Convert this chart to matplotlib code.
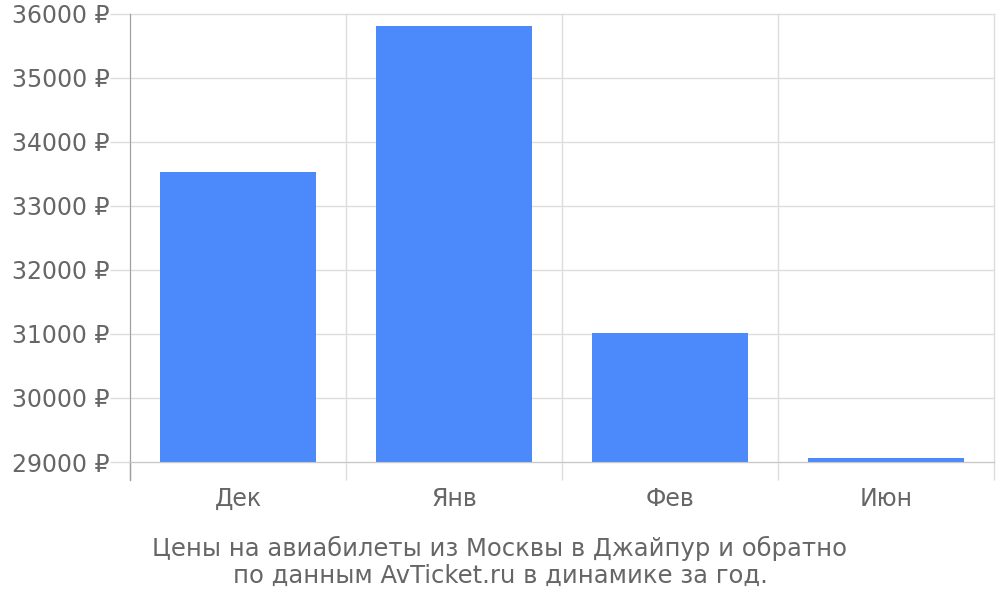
import matplotlib
matplotlib.use("Agg")
import matplotlib.pyplot as plt
from matplotlib.lines import Line2D

months = ["Дек", "Янв", "Фев", "Июн"]
prices = [33530, 35810, 31020, 29060]
yticks = [29000, 30000, 31000, 32000, 33000, 34000, 35000, 36000]
caption = "Цены на авиабилеты из Москвы в Джайпур и обратно\nпо данным AvTicket.ru в динамике за год."

TEXT = "#666666"
GRID = "#dddddd"
BAR = "#4c89fa"

plt.rcParams['font.family'] = ['DejaVu Sans']

fig = plt.figure(figsize=(10, 6), dpi=100)
ax = fig.add_axes([0.13, 0.23, 0.864, 0.7467])

x = list(range(len(months)))
ax.bar(x, [p - yticks[0] for p in prices], bottom=yticks[0], width=0.72, color=BAR, zorder=3)

ax.set_xlim(-0.5, len(months) - 0.5)
ax.set_ylim(yticks[0], yticks[-1])

ax.set_yticks(yticks)
ax.set_yticklabels([f"{v} ₽" for v in yticks])
ax.set_xticks(x)
ax.set_xticklabels(months)
ax.set_xticks([i - 0.5 for i in range(len(months) + 1)], minor=True)

ax.tick_params(axis='y', which='major', length=14.4, width=1, color=GRID, labelsize=17,
               labelcolor=TEXT, pad=0.5)
ax.tick_params(axis='x', which='major', length=0, labelsize=17, labelcolor=TEXT, pad=18)
ax.tick_params(axis='x', which='minor', length=13, width=1, color=GRID)

ax.grid(axis='y', which='major', color=GRID, linewidth=1, zorder=0)
ax.grid(axis='x', which='minor', color=GRID, linewidth=1, zorder=0)
for tick in ax.xaxis.get_minor_ticks() + ax.yaxis.get_major_ticks():
    tick.gridline.set_clip_on(False)

for s in ['top', 'right']:
    ax.spines[s].set_visible(False)
ax.spines['left'].set_color('#a0a0a0')
ax.spines['bottom'].set_color('#c8c8c8')
ax.spines['left'].set_zorder(4)
ax.spines['bottom'].set_zorder(4)

ext = Line2D([0, 0], [0, -18 / 448], transform=ax.transAxes, color='#a0a0a0',
             linewidth=1, clip_on=False, zorder=4)
ax.add_line(ext)

fig.text(0.5, 0.064, caption, ha='center', va='center', fontsize=17.5, color=TEXT,
         linespacing=1.15)

fig.savefig("out.png", dpi=100, facecolor='white')
